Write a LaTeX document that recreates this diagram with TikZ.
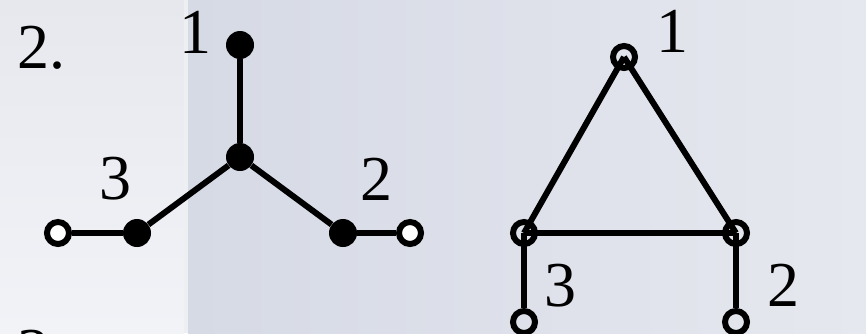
\documentclass[tikz,border=0pt]{standalone}
\usepackage{fontspec}
\setmainfont{Liberation Serif}
\usepackage{xcolor}
\usetikzlibrary{positioning}
\definecolor{panelleft}{HTML}{E6E8EE}
\definecolor{panelleftlow}{HTML}{F2F3F7}
\definecolor{panelstrip}{HTML}{EDEFF3}
\definecolor{panelright}{HTML}{D6DAE5}
\definecolor{panelfar}{HTML}{E6E8EF}

\begin{document}
\begin{tikzpicture}[
    x=1pt, y=-1pt,
    dotnode/.style={circle, fill=black, inner sep=0pt, minimum size=28pt},
    ringnode/.style={circle, draw=black, line width=6pt, inner sep=0pt, minimum size=22pt},
    edge/.style={line width=6pt},
    lbl/.style={font=\fontsize{64}{76}\selectfont, anchor=base, inner sep=0pt}
]
\useasboundingbox (0,0) rectangle (866,333);
\clip (0,0) rectangle (866,333);

% -- background panels --
\shade[top color=panelleft, bottom color=panelleftlow] (0,0) rectangle (184,333);
\fill[panelstrip] (184,0) rectangle (188,333);
\shade[left color=panelright, right color=panelfar] (188,0) rectangle (866,333);

% -- list numbers --
\node[lbl, anchor=base west] (num2) at (17,68) {2.};
\node[lbl, anchor=base west] (num3) at (17,372) {3.};

% -- LEFT: star graph --
\node[dotnode] (s1) at (240,45) {};
\node[dotnode] (s0) at (240,157) {};
\node[dotnode] (s3) at (137,233) {};
\node[dotnode] (s2) at (343,233) {};
\node[ringnode, fill=white] (e3) at (58,233) {};
\node[ringnode, fill=white] (e2) at (410,233) {};

\draw[edge] (s1) -- (s0);
\draw[edge] (s0) -- (s3);
\draw[edge] (s0) -- (s2);
\draw[edge] (s3) -- (e3);
\draw[edge] (s2) -- (e2);

\node[lbl] (l1) at (195,53) {1};
\node[lbl] (l3) at (115,199) {3};
\node[lbl] (l2) at (376,200) {2};

% -- RIGHT: triangle graph --
\node[ringnode] (t1) at (624,57) {};
\node[ringnode] (t3) at (524,233) {};
\node[ringnode] (t2) at (736,233) {};
\node[ringnode] (b3) at (524,322) {};
\node[ringnode] (b2) at (736,322) {};

\draw[edge] (t1.center) -- (t3.center);
\draw[edge] (t1.center) -- (t2.center);
\draw[edge] (t3.center) -- (t2.center);
\draw[edge] (t3.center) -- (b3);
\draw[edge] (t2.center) -- (b2);

\node[lbl] (r1) at (672,52) {1};
\node[lbl] (r3) at (560,306) {3};
\node[lbl] (r2) at (783,306) {2};

\end{tikzpicture}
\end{document}
